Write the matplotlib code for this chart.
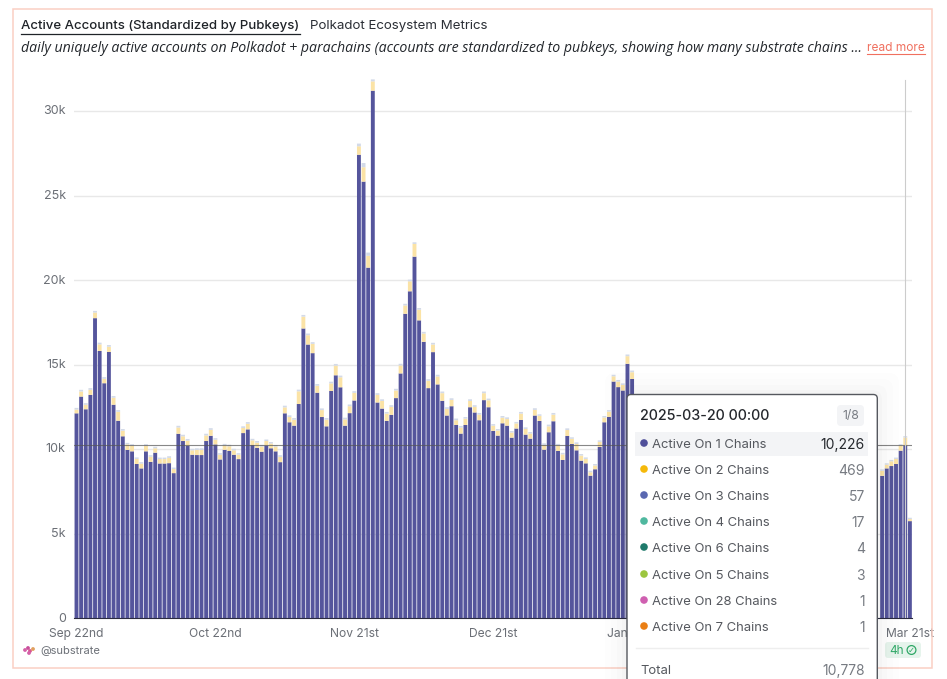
from matplotlib import pyplot as plt
from matplotlib.patches import FancyBboxPatch, Rectangle, Circle
from matplotlib.transforms import ScaledTranslation
import numpy as np

plt.rcParams['font.family'] = ['Inter', 'DejaVu Sans']

# values in thousands
# days 0-120 are visible, days 121-173 sit behind the tooltip
chain1_early = [12.13,13.12,12.37,13.22,17.76,15.82,13.91,15.76,12.64,11.69,10.77,9.96,9.88,9.13,8.87,9.88,9.26,9.80,9.16,9.16,
                9.18,8.59,10.92,10.49,10.21,9.68,9.66,9.66,10.49,10.80,10.29,9.40,9.97,9.90,9.68,9.42,10.96,11.18,10.25,10.09,
                9.86,10.23,10.06,9.88,9.24,12.13,11.60,11.40,12.68,17.15,16.20,15.69,13.35,11.91,11.36,13.45,14.38,13.67,
                11.40,12.14,12.89,27.43,25.84,20.75,31.22,
                12.77,12.41,11.68,12.04,13.03,14.49,18.02,19.35,21.40,17.63,16.36,13.62,15.75,13.84,12.87,12.00,12.55,11.44,10.93,
                11.44,12.49,12.18,11.72,12.91,12.49,11.09,10.81,11.54,11.40,10.69,11.23,11.74,10.87,10.63,12.00,11.68,9.98,11.01,
                11.66,9.90,9.37,10.79,10.32,9.94,9.33,9.17,8.44,8.82,10.14,11.60,11.92,14.01,13.68,13.48,15.06,14.16]
chain2_early = [.22,.30,.26,.30,.33,.39,.26,.31,.41,.53,.33,.33,.33,.30,.28,.33,.30,.26,.26,.26,
                .31,.24,.37,.28,.30,.26,.30,.30,.33,.35,.28,.28,.26,.28,.26,.26,.30,.33,.28,.30,
                .30,.26,.28,.28,.31,.35,.31,.35,.75,.70,.55,.55,.41,.41,.39,.45,.57,.59,
                .37,.41,.45,.50,.85,.70,.55,
                .45,.45,.43,.47,.45,.47,.49,.59,.75,.63,.49,.43,.45,.47,.45,.39,.37,.28,.35,
                .37,.37,.33,.33,.41,.41,.31,.30,.33,.39,.30,.30,.37,.33,.30,.33,.30,.28,.35,
                .39,.33,.33,.35,.30,.37,.30,.26,.20,.22,.30,.28,.31,.31,.33,.33,.45,.40]
chain3_early = [.10,.10,.10,.10,.10,.10,.10,.10,.10,.10,.10,.09,.09,.09,.09,.09,.09,.09,.09,.09,
                .10,.09,.10,.09,.10,.09,.10,.10,.10,.10,.09,.09,.09,.09,.09,.09,.10,.10,.09,.10,
                .10,.09,.09,.09,.10,.10,.10,.10,.10,.10,.10,.10,.10,.10,.10,.10,.10,.10,
                .10,.10,.10,.16,.25,.19,.12,
                .10,.10,.10,.10,.10,.10,.10,.10,.10,.10,.10,.10,.10,.10,.10,.10,.10,.10,.10,
                .10,.10,.10,.10,.10,.10,.09,.09,.10,.10,.09,.09,.10,.10,.09,.10,.09,.09,.10,
                .10,.09,.09,.10,.09,.10,.09,.09,.09,.09,.09,.09,.09,.09,.09,.09,.10,.10]
chain1_late = [8.43,8.87,9.01,9.13,9.92,10.226,5.75]
chain2_late = [.30,.22,.28,.30,.30,.469,.12]
chain3_late = [.08,.08,.08,.08,.08,.083,.08]

tick_days = [0, 30, 60, 90, 120, 180]
tick_labels = ['Sep 22nd', 'Oct 22nd', 'Nov 21st', 'Dec 21st', 'Jan 20th', 'Mar 21st']
y_ticks = [0, 5, 10, 15, 20, 25, 30]
y_labels = ['0', '5k', '10k', '15k', '20k', '25k', '30k']

row_names = ['Active On 1 Chains', 'Active On 2 Chains', 'Active On 3 Chains', 'Active On 4 Chains',
             'Active On 6 Chains', 'Active On 5 Chains', 'Active On 28 Chains', 'Active On 7 Chains']
row_values = ['10,226', '469', '57', '17', '4', '3', '1', '1']
row_colors = ['#4f4f9a', '#f5b90a', '#5a68b0', '#4fb89f', '#1f7a6b', '#9cc63f', '#cf5fb0', '#ea7f14']

W, H = 947, 679
fig = plt.figure(figsize=(W / 100, H / 100), dpi=100)

# chart area in pixels
left, right, top, bottom = 74, 912, 70, 618.3
ax = fig.add_axes([left / W, 1 - bottom / H, (right - left) / W, (bottom - top) / H])
ax.set_xlim(-2.5 / 4.63, (right - 76.5) / 4.63)
ax.set_ylim(0, (bottom - top) / 16.9)

days_early = np.arange(len(chain1_early))
days_late = np.arange(174, 174 + len(chain1_late))
# snap off so every gap between bars renders the same faint way
for days, c1, c2, c3 in [(days_early, chain1_early, chain2_early, chain3_early),
                         (days_late, chain1_late, chain2_late, chain3_late)]:
    c1, c2, c3 = np.array(c1), np.array(c2), np.array(c3)
    ax.bar(days, c1, width=0.84, color='#55559c', zorder=2, snap=False, lw=0)
    ax.bar(days, c2, width=0.84, bottom=c1, color='#fbe3a6', zorder=2, snap=False, lw=0)
    ax.bar(days, c3, width=0.84, bottom=c1 + c2, color='#d3dae8', zorder=2, snap=False, lw=0)

ax.set_yticks(y_ticks, y_labels)
ax.set_xticks(tick_days, tick_labels)
ax.tick_params(axis='both', length=0, labelcolor='#6b6f76')
ax.tick_params(axis='x', pad=7, labelsize=8.7)
ax.tick_params(axis='y', pad=6, labelsize=9)
# the y labels sit a little above their gridlines
for lab in ax.get_yticklabels():
    lab.set_transform(lab.get_transform() + ScaledTranslation(0, 1.3 / 100, fig.dpi_scale_trans))
ax.grid(axis='y', color='#e8e8e8', lw=1, zorder=0)
for side in ['top', 'left', 'right']:
    ax.spines[side].set_visible(False)
ax.spines['bottom'].set_color('#2b2b40')
ax.spines['bottom'].set_bounds(-2.5 / 4.63, 180.5)

# hover crosshair
ax.axhline(10.226, color='#555555', lw=0.8, alpha=0.7, zorder=3)
ax.plot([179, 179], [0, 31.85], color='#cccccc', lw=0.8, zorder=3)

# overlay in pixel coordinates for the card and tooltip
ov = fig.add_axes([0, 0, 1, 1], zorder=5)
ov.set_xlim(0, W)
ov.set_ylim(H, 0)
ov.axis('off')
ov.patch.set_alpha(0)

ov.add_patch(Rectangle((13.3, 8.7), 918.4, 659.6, fc='none', ec='#fbcfc4', lw=1.1))

ov.text(21, 26.5, 'Active Accounts (Standardized by Pubkeys)', fontsize=9.5, color='#1f2328', weight='medium', va='center')
ov.plot([21, 300], [34, 34], color='#1f2328', lw=0.9)
ov.text(310, 26.5, 'Polkadot Ecosystem Metrics', fontsize=9.6, color='#2b2f36', va='center')
ov.text(21, 48, 'daily uniquely active accounts on Polkadot + parachains (accounts are standardized to pubkeys, showing how many substrate chains ...',
        fontsize=10.2, color='#22262b', style='italic', va='center', family=['Open Sans', 'DejaVu Sans'])
ov.text(867, 48, 'read more', fontsize=8.6, color='#f0705f', va='center')
ov.plot([867, 925], [54, 54], color='#f0705f', lw=0.8)

# source tag
ov.text(40, 650.5, '@substrate', fontsize=8, color='#6b6f76', va='center')
for px, py, col in [(25, 650, '#d45fa8'), (28, 648, '#c94f9b'), (30, 651, '#d9578f'), (33, 649, '#e0a060'), (29, 653, '#d45fa8')]:
    ov.add_patch(Circle((px, py), 1.9, fc=col, ec='none'))

# freshness badge
ov.add_patch(FancyBboxPatch((885, 642), 36, 16, boxstyle='round,pad=0,rounding_size=3', fc='#e6f4ec', ec='none'))
ov.text(889, 650.5, '4h', fontsize=8.5, color='#2fa866', va='center')
ov.add_patch(Circle((911.5, 650), 4.4, fc='none', ec='#2fa866', lw=0.9))
ov.text(911.5, 650, '✓', fontsize=6, color='#2fa866', va='center', ha='center', family='DejaVu Sans')

# tooltip with a soft shadow
for grow, alpha in [(22, 0.006), (16, 0.008), (10, 0.01), (5, 0.014)]:
    ov.add_patch(FancyBboxPatch((627 - grow, 395 - grow), 250 + 2 * grow, 330, boxstyle='round,pad=0,rounding_size=10',
                                fc='black', ec='none', alpha=alpha, clip_on=True))
ov.add_patch(FancyBboxPatch((627, 394.5), 250.3, 330, boxstyle='round,pad=0,rounding_size=4', fc='white', ec='#55585e', lw=1))
ov.text(640, 415.5, '2025-03-20 00:00', fontsize=10.3, weight='medium', color='#25282d', va='center')
ov.add_patch(FancyBboxPatch((837, 405), 27, 21, boxstyle='round,pad=0,rounding_size=4', fc='#f3f4f6', ec='none'))
ov.text(850.5, 415.5, '1/8', fontsize=8.8, color='#777b82', va='center', ha='center')
ov.add_patch(Rectangle((635, 432), 233, 24, fc='#f3f4f6', ec='none'))

row_y = [445, 471, 497, 523, 549, 576, 602, 628]
for i in range(len(row_names)):
    ov.add_patch(Circle((644, row_y[i] - 2), 3.8, fc=row_colors[i], ec='none'))
    ov.text(651.5, row_y[i], row_names[i], fontsize=9.4, color='#55585e', va='center')
    ov.text(865, row_y[i], row_values[i], fontsize=10, va='center', ha='right', color='#25282d' if i == 0 else '#777b82')
ov.plot([636, 868], [647.5, 647.5], color='#eeeeee', lw=1)
ov.text(640, 671, 'Total', fontsize=9.4, color='#55585e', va='center')
ov.text(865, 671, '10,778', fontsize=10, color='#777b82', va='center', ha='right')

plt.savefig('out.png', dpi=100)
plt.close()
